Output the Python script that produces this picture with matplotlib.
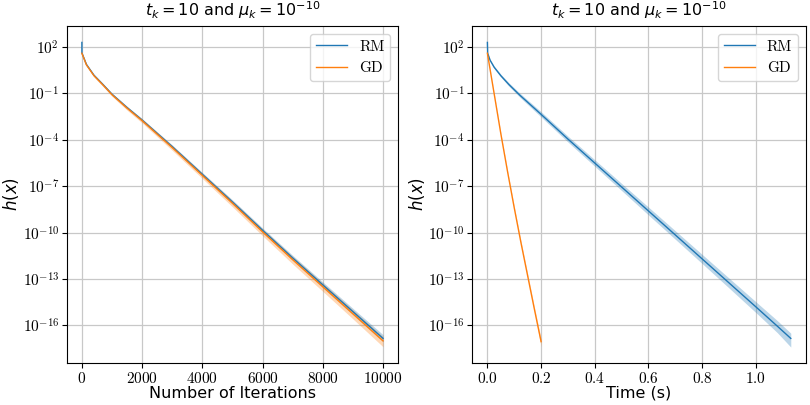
import matplotlib
matplotlib.use('Agg')
import matplotlib.pyplot as plt
import numpy as np

plt.rcParams['font.family'] = 'serif'
plt.rcParams['font.serif'] = ['cmr10', 'DejaVu Serif']
plt.rcParams['mathtext.fontset'] = 'cm'
plt.rcParams['axes.formatter.use_mathtext'] = True

# ---- left panel: log10 h(x) vs number of iterations ----
iters_rm = [0, 1, 150, 400, 700, 1000, 1500, 2000, 3000, 4000, 5000, 6000, 7000, 8000, 9000, 10000]
rm_iter = [2.3, 1.62, 0.88, 0.18, -0.42, -1.05, -1.91, -2.72, -4.44, -6.23, -8.02, -9.85, -11.64, -13.38, -15.11, -16.84]
rm_iter_lo = [2.3, 1.58, 0.82, 0.12, -0.48, -1.12, -1.99, -2.81, -4.55, -6.35, -8.16, -10.0, -11.8, -13.56, -15.31, -17.06]
rm_iter_hi = [2.3, 1.66, 0.93, 0.24, -0.36, -0.98, -1.83, -2.63, -4.33, -6.11, -7.88, -9.7, -11.47, -13.19, -14.9, -16.6]

iters_gd = [0, 150, 400, 700, 1000, 1500, 2000, 3000, 4000, 5000, 6000, 7000, 8000, 9000, 10000]
gd_iter = [1.6, 0.85, 0.15, -0.45, -1.08, -1.95, -2.76, -4.5, -6.3, -8.1, -9.95, -11.75, -13.5, -15.25, -17.0]
gd_iter_lo = [1.55, 0.78, 0.07, -0.55, -1.19, -2.08, -2.91, -4.68, -6.5, -8.33, -10.2, -12.03, -13.8, -15.58, -17.38]
gd_iter_hi = [1.65, 0.91, 0.22, -0.37, -0.99, -1.85, -2.64, -4.36, -6.15, -7.93, -9.76, -11.54, -13.27, -15.0, -16.73]

# ---- right panel: log10 h(x) vs wall-clock time ----
t_rm = [0.0, 0.001, 0.01, 0.025, 0.05, 0.08, 0.12, 0.2, 0.3, 0.4, 0.5, 0.6, 0.7, 0.8, 0.9, 1.0, 1.08, 1.13]
rm_time = [2.3, 1.6, 1.15, 0.7, 0.15, -0.42, -1.1, -2.35, -3.95, -5.5, -7.05, -8.6, -10.15, -11.7, -13.25, -14.8, -16.05, -16.84]
rm_time_lo = [2.3, 1.56, 1.09, 0.62, 0.06, -0.53, -1.23, -2.52, -4.14, -5.71, -7.28, -8.86, -10.43, -12.0, -13.58, -15.17, -16.47, -17.4]
rm_time_hi = [2.3, 1.64, 1.21, 0.78, 0.24, -0.31, -0.97, -2.18, -3.76, -5.29, -6.82, -8.35, -9.88, -11.41, -12.94, -14.47, -15.69, -16.5]

t_gd = [0.0, 0.025, 0.05, 0.075, 0.1, 0.125, 0.15, 0.175, 0.2]
gd_time = [1.6, -1.0, -3.6, -6.05, -8.4, -10.65, -12.8, -14.95, -17.05]
gd_time_lo = [1.58, -1.04, -3.66, -6.13, -8.5, -10.77, -12.94, -15.12, -17.38]
gd_time_hi = [1.62, -0.96, -3.54, -5.97, -8.3, -10.53, -12.66, -14.8, -16.85]

titles = [r'$t_k = 10$ and $\mu_k = 10^{-10}$'] * 2
xlabels = ['Number of Iterations', 'Time (s)']

fig = plt.figure(figsize=(8.1, 4.05), dpi=100)
ax1 = fig.add_axes([0.0825, 0.1037, 0.409, 0.832])
ax2 = fig.add_axes([0.583, 0.1037, 0.412, 0.832])

panels = [
    (ax1, (iters_rm, rm_iter, rm_iter_lo, rm_iter_hi), (iters_gd, gd_iter, gd_iter_lo, gd_iter_hi)),
    (ax2, (t_rm, rm_time, rm_time_lo, rm_time_hi), (t_gd, gd_time, gd_time_lo, gd_time_hi)),
]

for i, (ax, rm, gd) in enumerate(panels):
    for (x, y, lo, hi), color, label in [(rm, 'tab:blue', 'RM'), (gd, 'tab:orange', 'GD')]:
        ax.plot(x, 10.0 ** np.array(y), color=color, linewidth=1.0, label=label)
        ax.fill_between(x, 10.0 ** np.array(lo), 10.0 ** np.array(hi), color=color, alpha=0.3, linewidth=0)
    ax.set_yscale('log')
    ax.set_ylim(10 ** -18.43, 10 ** 3.36)
    ax.set_yticks([1e2, 1e-1, 1e-4, 1e-7, 1e-10, 1e-13, 1e-16])
    ax.minorticks_off()
    ax.grid(True, color='#c8c8c8', linewidth=0.9)
    ax.set_axisbelow(True)
    ax.tick_params(labelsize=11, pad=2)
    ax.set_title(titles[i], fontsize=11.5, family='DejaVu Sans', math_fontfamily='dejavusans', pad=7)
    ax.set_xlabel(xlabels[i], fontsize=11.5, family='DejaVu Sans', labelpad=0)
    ax.set_ylabel(r'$h(x)$', fontsize=12, math_fontfamily='dejavusans', labelpad=1)
    ax.legend(loc='upper right', fontsize=11)

ax1.set_xticks([0, 2000, 4000, 6000, 8000, 10000])
ax2.set_xticks([0.0, 0.2, 0.4, 0.6, 0.8, 1.0])

fig.savefig('out.png', dpi=100)
